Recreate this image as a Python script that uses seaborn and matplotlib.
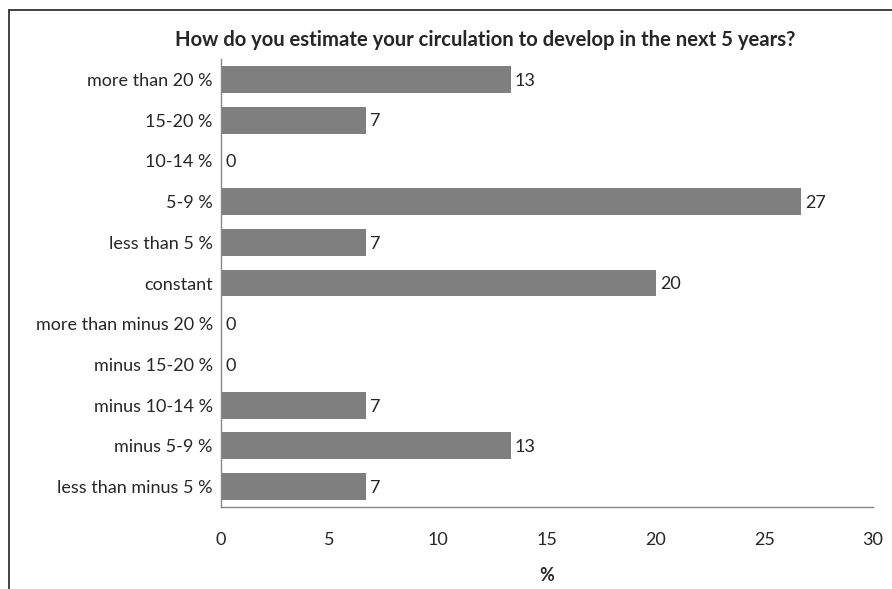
import matplotlib
matplotlib.use("Agg")
import matplotlib.pyplot as plt
from matplotlib.lines import Line2D
import seaborn as sns
import pandas as pd

categories = ["more than 20 %", "15-20 %", "10-14 %", "5-9 %", "less than 5 %",
              "constant", "more than minus 20 %", "minus 15-20 %", "minus 10-14 %",
              "minus 5-9 %", "less than minus 5 %"]
values = [13.33, 6.67, 0, 26.67, 6.67, 20, 0, 0, 6.67, 13.33, 6.67]
value_labels = ["13", "7", "0", "27", "7", "20", "0", "0", "7", "13", "7"]
x_ticks = [0, 5, 10, 15, 20, 25, 30]
title = "How do you estimate your circulation to develop in the next 5 years?"
x_label = "%"

sns.set_style("white")
plt.rcParams['font.family'] = ['Lato', 'DejaVu Sans']

FS = 13
W, H = 892, 589
fig = plt.figure(figsize=(W / 100, H / 100), dpi=100)
ax = fig.add_axes([221 / W, 1 - 507 / H, (873 - 221) / W, (507 - 59) / H])

df = pd.DataFrame({"cat": categories, "val": values})
sns.barplot(data=df, x="val", y="cat", order=categories, orient="h",
            color="#7f7f7f", saturation=1, width=0.66, ax=ax, edgecolor="none")

ax.set_xlim(0, 30)
ax.set_ylim(len(categories) - 0.5, -0.5)
ax.set_xticks(x_ticks)
ax.set_xticklabels([str(t) for t in x_ticks], fontsize=FS)
ax.set_yticks(range(len(categories)))
ax.set_yticklabels(categories, fontsize=FS)
ax.tick_params(axis="y", length=0, pad=6)
ax.tick_params(axis="x", length=6, color="#888888", pad=12, width=1)
ax.set_yticks([i - 0.5 for i in range(len(categories) + 1)], minor=True)
ax.tick_params(axis="y", which="minor", length=6, color="#888888", width=1)

for s in ["top", "right"]:
    ax.spines[s].set_visible(False)
for s in ["left", "bottom"]:
    ax.spines[s].set_color("#888888")
    ax.spines[s].set_linewidth(1)

ax.set_ylabel("")
ax.set_xlabel(x_label, fontsize=FS, fontweight="bold", labelpad=14)

for i, (v, lab) in enumerate(zip(values, value_labels)):
    ax.annotate(lab, xy=(v, i), xytext=(3, -1), textcoords="offset points",
                va="center", ha="left", fontsize=FS)

fig.text(485 / W, 1 - 40 / H, title, ha="center", va="center",
         fontsize=14.6, fontweight="bold")

fig.add_artist(Line2D([9 / W, 1.0], [1 - 10 / H, 1 - 10 / H],
                      transform=fig.transFigure, color="#333333", lw=1.3))
fig.add_artist(Line2D([9 / W, 9 / W], [1 - 10 / H, 0.0],
                      transform=fig.transFigure, color="#333333", lw=1.3))

fig.savefig("out.png", dpi=100)
